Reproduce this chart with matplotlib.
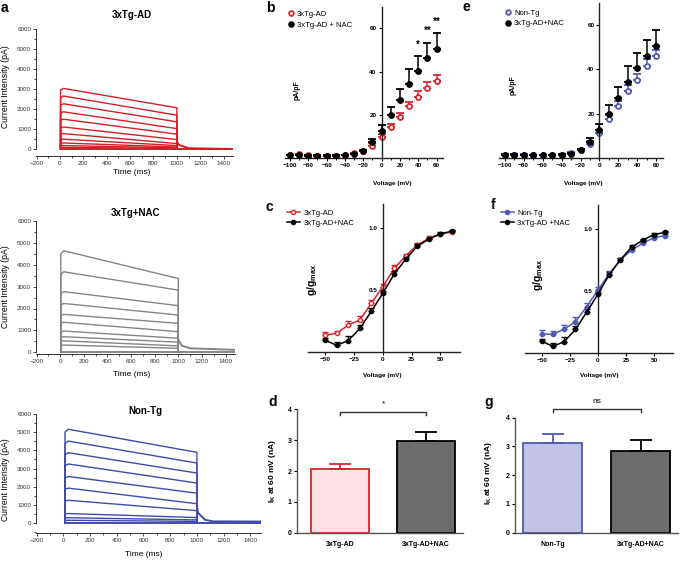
import numpy as np
import matplotlib.pyplot as plt
from matplotlib.lines import Line2D
from matplotlib.ticker import MultipleLocator

plt.rcParams['font.family'] = ['Liberation Sans', 'DejaVu Sans']
plt.rcParams['mathtext.fontset'] = 'custom'
plt.rcParams['mathtext.rm'] = 'Liberation Sans:bold'
plt.rcParams['mathtext.it'] = 'Liberation Sans:bold'
plt.rcParams['mathtext.bf'] = 'Liberation Sans:bold'

# ====================
# DATA
# ====================

# a: outward K+ current traces (pA): level right after onset and at 1000 ms
AD_PEAK = [3030, 2650, 2260, 1860, 1490, 1100, 770, 490, 300, 170, 80]
AD_END = [2060, 1690, 1360, 1020, 740, 470, 270, 170, 100, 60, 30]
AD_TAIL_T = [1000, 1020, 1100, 1480]
AD_TAIL_V = [350, 200, 40, 0]

NAC_PEAK = [4640, 3680, 2770, 2230, 1730, 1370, 970, 710, 520, 330]
NAC_END = [3370, 2840, 2130, 1700, 1320, 940, 640, 460, 290, 180]
NAC_TAIL_T = [1000, 1030, 1100, 1480]
NAC_TAIL_V = [560, 300, 180, 110]

NONTG_PEAK = [5160, 4510, 3870, 3250, 2560, 1920, 1250, 520, 290, 150]
NONTG_END = [3890, 3300, 2750, 2200, 1640, 1060, 680, 300, 170, 90]
NONTG_TAIL_T = [1000, 1010, 1060, 1120, 1480]
NONTG_TAIL_V = [900, 550, 180, 90, 80]

# b / e: current density (pA/pF) vs voltage
IV_V = [-100, -90, -80, -70, -60, -50, -40, -30, -20, -10, 0, 10, 20, 30, 40, 50, 60]
IV_AD = [1.3, 1.8, 1.3, 1.1, 1.1, 1.1, 1.4, 2.3, 3.4, 5.8, 10.0, 14.6, 19.1, 24.0, 28.5, 32.3, 35.7]
IV_AD_ERR = [0.2, 0.2, 0.2, 0.2, 0.2, 0.2, 0.2, 0.3, 0.5, 1.4, 1.2, 1.4, 1.7, 2.2, 2.7, 2.7, 2.8]
IV_NAC = [1.4, 1.3, 1.2, 1.1, 1.1, 1.1, 1.4, 1.8, 3.5, 7.3, 12.7, 20.0, 27.1, 34.5, 40.4, 46.2, 50.4]
IV_NAC_ERR = [0.2, 0.2, 0.2, 0.2, 0.2, 0.2, 0.2, 0.3, 0.5, 1.5, 2.8, 3.8, 5.1, 6.8, 6.9, 7.2, 7.4]
IV_NONTG = [1.2, 1.3, 1.3, 1.1, 1.1, 1.1, 1.3, 2.3, 3.4, 6.2, 11.0, 17.5, 23.4, 30.2, 35.4, 41.7, 45.9]
IV_NONTG_ERR = [0.2, 0.2, 0.2, 0.2, 0.2, 0.2, 0.2, 0.3, 0.5, 1.2, 1.6, 2.0, 2.3, 2.5, 2.6, 2.8, 3.0]
IV_STARS = {40: '*', 50: '**', 60: '**'}

# c / f: normalised conductance g/gmax vs voltage
G_V = [-50, -40, -30, -20, -10, 0, 10, 20, 30, 40, 50, 60]
G_AD = [0.135, 0.149, 0.216, 0.257, 0.392, 0.527, 0.676, 0.778, 0.865, 0.919, 0.951, 0.973]
G_AD_ERR = [0.025, 0.02, 0.03, 0.035, 0.03, 0.025, 0.025, 0.015, 0.015, 0.015, 0.012, 0.01]
G_NAC = [0.092, 0.052, 0.090, 0.188, 0.328, 0.474, 0.630, 0.752, 0.855, 0.912, 0.957, 0.975]
G_NAC_ERR = [0.02, 0.03, 0.04, 0.03, 0.025, 0.02, 0.02, 0.015, 0.015, 0.012, 0.01, 0.01]
G_NONTG = [0.151, 0.149, 0.192, 0.251, 0.373, 0.508, 0.638, 0.751, 0.832, 0.886, 0.932, 0.949]
G_NONTG_ERR = [0.03, 0.03, 0.035, 0.035, 0.03, 0.025, 0.025, 0.02, 0.02, 0.015, 0.012, 0.01]

# d / g: IK at 60 mV (nA)
D_LABELS = ['3xTg-AD', '3xTg-AD+NAC']
D_MEANS = [2.08, 2.97]
D_ERR = [0.14, 0.31]
G_LABELS = ['Non-Tg', '3xTg-AD+NAC']
G_MEANS = [3.11, 2.84]
G_ERR = [0.32, 0.38]

RED = '#d8262e'
BLUE = '#4f5bb2'
TRACE_RED = '#d21f26'
TRACE_BLUE = '#3f4ca9'
TRACE_GRAY = '#858585'
PINK = '#fde3e8'
LAVENDER = '#c2c2e6'
DARK = '#6c6c6c'
AXC = '#333333'

W, H = 685, 562
fig = plt.figure(figsize=(W / 100, H / 100), dpi=100)


def add_ax(left, top, right, bottom):
    return fig.add_axes([left / W, 1 - bottom / H, (right - left) / W, (bottom - top) / H])


def ftext(x, y, s, **kw):
    return fig.text(x / W, 1 - y / H, s, **kw)


# ====================
# a: traces
# ====================

def trace_panel(box, peaks, ends, tail_t, tail_v, onset, color, ylim, xright):
    ax = add_ax(*box)
    for pk, en in zip(peaks, ends):
        ax.plot([onset, onset, onset + 25, 1000, 1000], [0, pk * 0.97, pk, en, 0],
                color=color, lw=1.0)
    ax.plot([onset, 1480], [0, 0], color=color, lw=1.4)
    ax.plot(tail_t, tail_v, color=color, lw=1.4)
    ax.set_xlim(-205, xright)
    ax.set_ylim(*ylim)
    ax.spines[['top', 'right']].set_visible(False)
    for s in ['left', 'bottom']:
        ax.spines[s].set_color(AXC)
        ax.spines[s].set_linewidth(0.7)
    ax.spines['left'].set_bounds(0, 6000)
    ax.set_xticks(np.arange(-200, 1401, 200))
    ax.xaxis.set_minor_locator(MultipleLocator(100))
    ax.set_yticks(np.arange(0, 6001, 1000))
    ax.yaxis.set_minor_locator(MultipleLocator(500))
    ax.tick_params(labelsize=4.5, length=2, width=0.6, pad=1.5, colors=AXC)
    ax.tick_params(which='minor', length=1.2, width=0.5)
    return ax


trace_panel((36, 29, 233, 156), AD_PEAK, AD_END, AD_TAIL_T, AD_TAIL_V, 5, TRACE_RED, (-350, 6000), 1480)
trace_panel((36, 221, 235, 354), NAC_PEAK, NAC_END, NAC_TAIL_T, NAC_TAIL_V, 5, TRACE_GRAY, (-80, 6000), 1480)
trace_panel((36, 414, 261, 533), NONTG_PEAK, NONTG_END, NONTG_TAIL_T, NONTG_TAIL_V, 12, TRACE_BLUE, (-550, 6000), 1480)

for (tx, ty, title), (lx, ly), yy in zip(
        [(132, 15, '3xTg-AD'), (135, 213, '3xTg+NAC'), (145, 411, 'Non-Tg')],
        [(132, 173), (132, 375), (144, 555)],
        [87, 287, 480]):
    ftext(tx, ty, title, fontsize=7, fontweight='bold', ha='center', va='center')
    ftext(lx, ly, 'Time (ms)', fontsize=6, ha='center', va='center')
    ftext(6, yy, 'Current Intensity (pA)', fontsize=6.2, rotation=90, ha='center', va='center')


def style_zero_axes(ax):
    ax.spines[['top', 'right']].set_visible(False)
    ax.spines['left'].set_position(('data', 0))
    for s in ['left', 'bottom']:
        ax.spines[s].set_color('#222222')
        ax.spines[s].set_linewidth(1.0)
    ax.tick_params(labelsize=4.6, length=2.2, width=0.8, pad=1.5)
    ax.tick_params(which='minor', length=1.5, width=0.7)
    for lab in ax.get_xticklabels() + ax.get_yticklabels():
        lab.set_fontweight('bold')


# ====================
# b / e: I-V
# ====================

def iv_panel(box, series, leg_xy, stars=None):
    ax = add_ax(*box)
    handles = []
    for vals, err, color, filled, label in series:
        face = color if filled else 'white'
        ax.errorbar(IV_V, vals, yerr=[np.zeros(len(err)), err], fmt='o', ms=3.6,
                    mfc=face, mec=color, mew=1.3,
                    ecolor=color, elinewidth=1.1, capsize=2.6, capthick=1.1,
                    zorder=3 if filled else 2)
        handles.append(Line2D([], [], ls='none', marker='o', ms=3.4, mfc=face, mec=color,
                              mew=1.3, label=label))
    if stars:
        nac = dict(zip(IV_V, np.array(IV_NAC) + np.array(IV_NAC_ERR)))
        for v, s in stars.items():
            ax.text(v, nac[v] + 3, s, ha='center', va='bottom', fontsize=7, fontweight='bold')
    ax.set_xlim(-106, 67)
    ax.set_ylim(0, 70)
    ax.set_xticks(np.arange(-100, 61, 20))
    ax.xaxis.set_minor_locator(MultipleLocator(10))
    ax.set_yticks([20, 40, 60])
    style_zero_axes(ax)
    ax.legend(handles=handles, loc='upper left', bbox_to_anchor=leg_xy, frameon=False,
              fontsize=5.5, handletextpad=0.3, borderaxespad=0, borderpad=0,
              labelspacing=0.45, handlelength=0.9)
    return ax


iv_panel((284.5, 6.7, 443, 158.3),
         [(IV_AD, IV_AD_ERR, RED, False, '3xTg-AD'),
          (IV_NAC, IV_NAC_ERR, 'black', True, '3xTg-AD + NAC')], (0.02, 0.975), IV_STARS)
iv_panel((499, 3, 663, 157.8),
         [(IV_NONTG, IV_NONTG_ERR, BLUE, False, 'Non-Tg'),
          (IV_NAC, IV_NAC_ERR, 'black', True, '3xTg-AD+NAC')], (0.035, 0.96))

ftext(297, 90, 'pA/pF', fontsize=5, fontweight='bold', rotation=90, ha='center', va='center')
ftext(513, 85, 'pA/pF', fontsize=5, fontweight='bold', rotation=90, ha='center', va='center')
ftext(392, 183, 'Voltage (mV)', fontsize=4.6, fontweight='bold', ha='center', va='center')
ftext(583, 183, 'Voltage (mV)', fontsize=4.6, fontweight='bold', ha='center', va='center')


# ====================
# c / f: conductance
# ====================

def g_panel(box, series, leg_xy):
    ax = add_ax(*box)
    handles = []
    for vals, err, color, filled, label in series:
        face = color if filled else 'white'
        ax.errorbar(G_V, vals, yerr=[np.zeros(len(err)), err], fmt='-o', ms=3.0,
                    color=color, mfc=face, mec=color, mew=1.0,
                    lw=1.1, ecolor=color, elinewidth=1.0, capsize=2.2, capthick=1.0,
                    zorder=3 if filled else 2)
        handles.append(Line2D([], [], color=color, lw=1.1, marker='o', ms=3.0, mfc=face,
                              mec=color, mew=1.0, label=label))
    ax.set_xlim(-65, 67)
    ax.set_ylim(0, 1.2)
    ax.set_xticks([-50, -25, 0, 25, 50])
    ax.set_yticks([0.5, 1.0])
    ax.set_yticklabels(['0.5', '1.0'])
    style_zero_axes(ax)
    ax.legend(handles=handles, loc='upper left', bbox_to_anchor=leg_xy, frameon=False,
              fontsize=5.5, handletextpad=0.5, borderaxespad=0, borderpad=0,
              labelspacing=0.3, handlelength=1.7)
    return ax


g_panel((308, 203.6, 460, 351.7),
        [(G_AD, G_AD_ERR, RED, False, '3xTg-AD'),
         (G_NAC, G_NAC_ERR, 'black', True, '3xTg-AD+NAC')], (-0.14, 0.96))
g_panel((525, 204.6, 673, 352.7),
        [(G_NONTG, G_NONTG_ERR, BLUE, True, 'Non-Tg'),
         (G_NAC, G_NAC_ERR, 'black', True, '3xTg-AD +NAC')], (-0.165, 0.965))

ftext(312, 280, r'$g/g_{max}$', fontsize=7.5, rotation=90, ha='center', va='center')
ftext(538, 275, r'$g/g_{max}$', fontsize=7.5, rotation=90, ha='center', va='center')
ftext(382, 375, 'Voltage (mV)', fontsize=4.6, fontweight='bold', ha='center', va='center')
ftext(599, 375, 'Voltage (mV)', fontsize=4.6, fontweight='bold', ha='center', va='center')


# ====================
# d / g: bars
# ====================

def bar_panel(box, labels, means, err, fills, edges, xlim, ylim, bracket_y, sig):
    ax = add_ax(*box)
    x = np.arange(len(means))
    ax.bar(x, means, width=0.67, color=fills, edgecolor=edges, linewidth=1.3, zorder=2)
    for xi, m, e, c in zip(x, means, err, edges):
        ax.errorbar(xi, m, yerr=[[0], [e]], fmt='none', ecolor=c, elinewidth=1.3,
                    capsize=8, capthick=1.3, zorder=3)
    ax.plot([x[0], x[0], x[-1], x[-1]], [bracket_y - 0.1, bracket_y, bracket_y, bracket_y - 0.1],
            color='#333333', lw=1.0)
    ax.text(x.mean(), bracket_y + 0.15, sig, ha='center', va='bottom', fontsize=6)
    ax.set_xlim(*xlim)
    ax.set_ylim(*ylim)
    ax.spines[['top', 'right']].set_visible(False)
    for s in ['left', 'bottom']:
        ax.spines[s].set_color('#555555')
        ax.spines[s].set_linewidth(1.0)
    ax.spines['left'].set_bounds(0, 4)
    ax.set_xticks(x)
    ax.set_xticklabels(labels)
    ax.set_yticks(range(5))
    ax.tick_params(axis='x', length=0, labelsize=5, pad=6)
    ax.tick_params(axis='y', length=2.2, width=0.8, labelsize=5, pad=1.5)
    for lab in ax.get_xticklabels() + ax.get_yticklabels():
        lab.set_fontweight('bold')
    return ax


bar_panel((296.7, 403.3, 463.3, 532.7), D_LABELS, D_MEANS, D_ERR, [PINK, DARK], [RED, 'black'],
          (-0.5, 1.43), (0, 4.2), 3.92, '*')
bar_panel((515, 403.3, 678.3, 532.7), G_LABELS, G_MEANS, G_ERR, [LAVENDER, DARK], [BLUE, 'black'],
          (-0.43, 1.43), (0, 4.5), 4.29, 'ns')

ftext(273, 471, r'$I_K$ at 60 mV (nA)', fontsize=6, fontweight='bold', rotation=90,
      ha='center', va='center')
ftext(488, 473, r'$I_K$ at 60 mV (nA)', fontsize=6, fontweight='bold', rotation=90,
      ha='center', va='center')

# panel letters
for x, y, s in [(1, 1, 'a'), (266, 1, 'b'), (462, 0, 'e'), (266, 200, 'c'),
                (491, 198, 'f'), (268, 395, 'd'), (484, 395, 'g')]:
    ftext(x, y, s, fontsize=10, fontweight='bold', ha='left', va='top')

plt.savefig('out.png', dpi=100)
